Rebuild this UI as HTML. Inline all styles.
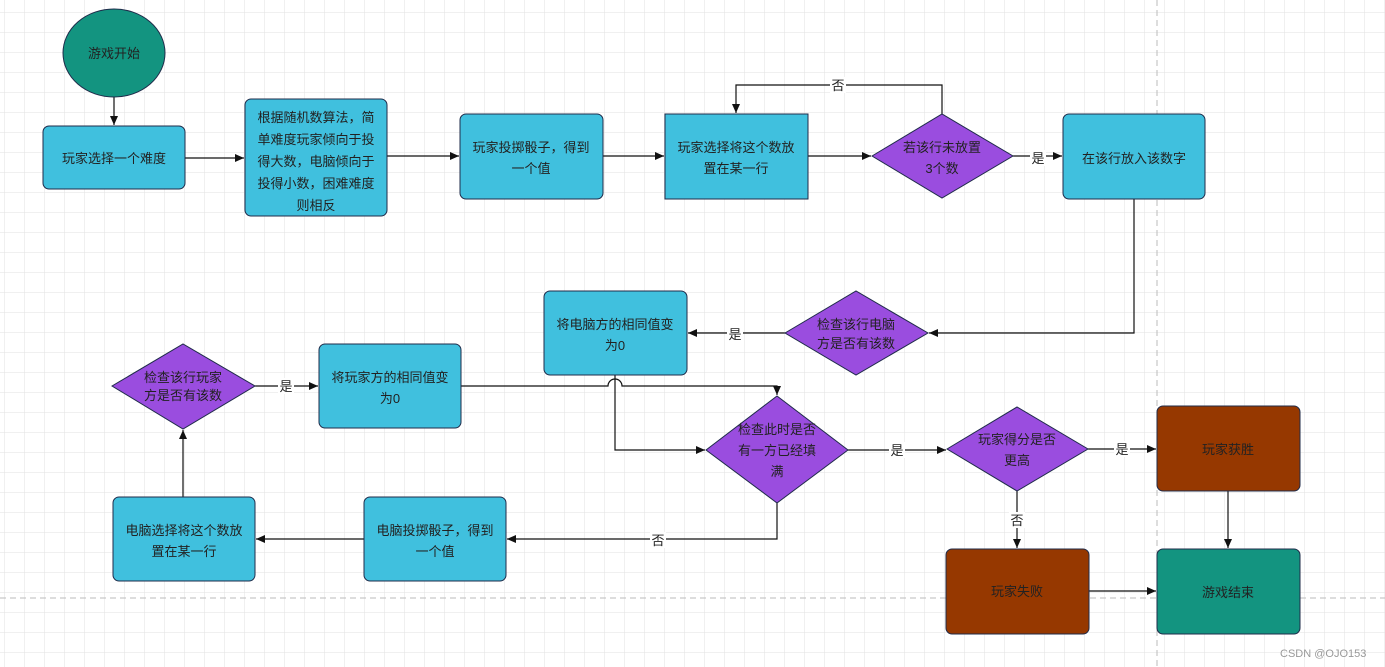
<!DOCTYPE html>
<html><head><meta charset="utf-8"><style>
html,body{margin:0;padding:0;background:#fff;}
svg{display:block;}
text{font-family:"Liberation Sans","Noto Sans CJK SC",sans-serif;font-size:13px;fill:#222;}
</style></head><body>
<svg width="1385" height="667" viewBox="0 0 1385 667" xmlns="http://www.w3.org/2000/svg">
<defs>
<pattern id="g" x="4" y="12" width="20" height="20" patternUnits="userSpaceOnUse">
<path d="M0 0H20M0 0V20" stroke="#e2e2e2" stroke-width="1" fill="none"/>
</pattern>
<marker id="a" markerWidth="10" markerHeight="10" refX="9" refY="5" orient="auto" markerUnits="userSpaceOnUse">
<path d="M0 1L9 5L0 9Z" fill="#111"/>
</marker>
</defs>
<rect width="1385" height="667" fill="url(#g)"/>
<line x1="1157" y1="0" x2="1157" y2="667" stroke="#bbb" stroke-dasharray="6,4"/>
<line x1="0" y1="598" x2="1385" y2="598" stroke="#bbb" stroke-dasharray="6,4"/>

<g stroke="#111" stroke-width="1.2" fill="none">
<path d="M114 97V125" marker-end="url(#a)"/>
<path d="M185 158H244" marker-end="url(#a)"/>
<path d="M387 156H459" marker-end="url(#a)"/>
<path d="M603 156H664" marker-end="url(#a)"/>
<path d="M808 156H871" marker-end="url(#a)"/>
<path d="M942 114V85H736V113" marker-end="url(#a)"/>
<path d="M1013 156H1062" marker-end="url(#a)"/>
<path d="M1134 199V333H929" marker-end="url(#a)"/>
<path d="M785 333H688" marker-end="url(#a)"/>
<path d="M615 375V450H705" marker-end="url(#a)"/>
<path d="M461 386H608A7 7 0 0 1 622 386H777V395" marker-end="url(#a)"/>
<path d="M255 386H318" marker-end="url(#a)"/>
<path d="M183 497V430" marker-end="url(#a)"/>
<path d="M848 450H946" marker-end="url(#a)"/>
<path d="M777 503V539H507" marker-end="url(#a)"/>
<path d="M364 539H256" marker-end="url(#a)"/>
<path d="M1088 449H1156" marker-end="url(#a)"/>
<path d="M1017 491V548" marker-end="url(#a)"/>
<path d="M1228 491V548" marker-end="url(#a)"/>
<path d="M1089 591H1156" marker-end="url(#a)"/>
</g>

<g stroke="#1f2b4a" stroke-width="1">
<ellipse cx="114" cy="53" rx="51" ry="44" fill="#139480"/>
<rect x="43" y="126" width="142" height="63" rx="6" fill="#40c0de"/>
<rect x="245" y="99" width="142" height="117" rx="6" fill="#40c0de"/>
<rect x="460" y="114" width="143" height="85" rx="6" fill="#40c0de"/>
<rect x="665" y="114" width="143" height="85" fill="#40c0de"/>
<path d="M872 156L942 114L1013 156L942 198Z" fill="#9a4ddf"/>
<rect x="1063" y="114" width="142" height="85" rx="6" fill="#40c0de"/>
<path d="M785 333L856 291L928 333L856 375Z" fill="#9a4ddf"/>
<rect x="544" y="291" width="143" height="84" rx="6" fill="#40c0de"/>
<rect x="319" y="344" width="142" height="84" rx="6" fill="#40c0de"/>
<path d="M112 386L183 344L255 386L183 429Z" fill="#9a4ddf"/>
<path d="M706 450L777 396L848 450L777 503Z" fill="#9a4ddf"/>
<path d="M947 449L1017 407L1088 449L1017 491Z" fill="#9a4ddf"/>
<rect x="1157" y="406" width="143" height="85" rx="6" fill="#963800"/>
<rect x="946" y="549" width="143" height="85" rx="6" fill="#963800"/>
<rect x="1157" y="549" width="143" height="85" rx="6" fill="#139480"/>
<rect x="364" y="497" width="142" height="84" rx="6" fill="#40c0de"/>
<rect x="113" y="497" width="142" height="84" rx="6" fill="#40c0de"/>
</g>

<g text-anchor="middle">
<text x="114" y="58">游戏开始</text>
<text x="114" y="163">玩家选择一个难度</text>
<text x="316" y="122">根据随机数算法，简</text>
<text x="316" y="144">单难度玩家倾向于投</text>
<text x="316" y="166">得大数，电脑倾向于</text>
<text x="316" y="188">投得小数，困难难度</text>
<text x="316" y="210">则相反</text>
<text x="531" y="152">玩家投掷骰子，得到</text>
<text x="531" y="173">一个值</text>
<text x="736" y="152">玩家选择将这个数放</text>
<text x="736" y="173">置在某一行</text>
<text x="942" y="152">若该行未放置</text>
<text x="942" y="173">3个数</text>
<text x="1134" y="163">在该行放入该数字</text>
<text x="856" y="329">检查该行电脑</text>
<text x="856" y="348">方是否有该数</text>
<text x="615" y="329">将电脑方的相同值变</text>
<text x="615" y="350">为0</text>
<text x="390" y="382">将玩家方的相同值变</text>
<text x="390" y="403">为0</text>
<text x="183" y="382">检查该行玩家</text>
<text x="183" y="400">方是否有该数</text>
<text x="777" y="434">检查此时是否</text>
<text x="777" y="455">有一方已经填</text>
<text x="777" y="476">满</text>
<text x="1017" y="444">玩家得分是否</text>
<text x="1017" y="465">更高</text>
<text x="1228" y="454">玩家获胜</text>
<text x="1017" y="596">玩家失败</text>
<text x="1228" y="597">游戏结束</text>
<text x="435" y="535">电脑投掷骰子，得到</text>
<text x="435" y="556">一个值</text>
<text x="184" y="535">电脑选择将这个数放</text>
<text x="184" y="556">置在某一行</text>
</g>
<g text-anchor="middle">
<rect x="830" y="77" width="16" height="16" fill="#fff"/><text x="838" y="90">否</text>
<rect x="1030" y="150" width="16" height="16" fill="#fff"/><text x="1038" y="163">是</text>
<rect x="727" y="326" width="16" height="16" fill="#fff"/><text x="735" y="339">是</text>
<rect x="278" y="378" width="16" height="16" fill="#fff"/><text x="286" y="391">是</text>
<rect x="889" y="442" width="16" height="16" fill="#fff"/><text x="897" y="455">是</text>
<rect x="650" y="532" width="16" height="16" fill="#fff"/><text x="658" y="545">否</text>
<rect x="1114" y="441" width="16" height="16" fill="#fff"/><text x="1122" y="454">是</text>
<rect x="1009" y="512" width="16" height="16" fill="#fff"/><text x="1017" y="525">否</text>
</g>
<text x="1280" y="657" style="font-size:11px;fill:#999">CSDN @OJO153</text>
</svg>
</body></html>
